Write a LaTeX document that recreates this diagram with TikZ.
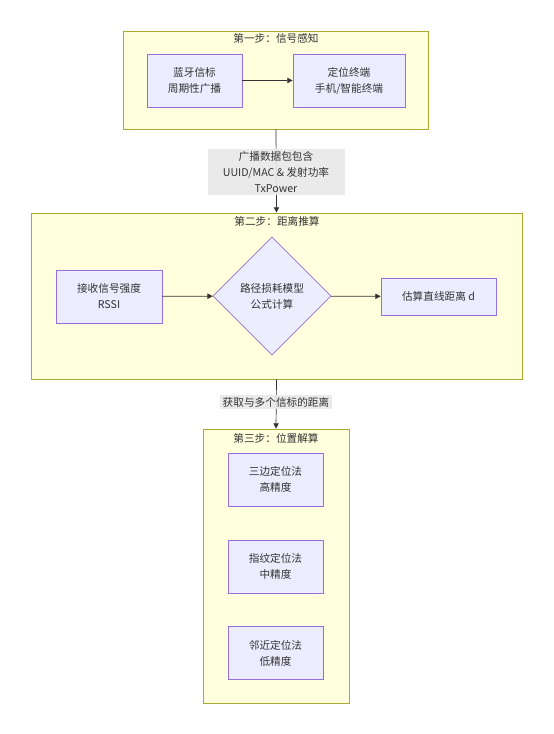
\documentclass[tikz,border=0pt]{standalone}
\usepackage{fontspec}
\setmainfont{Noto Sans CJK SC}
\usetikzlibrary{arrows.meta,positioning,shapes.geometric}
\definecolor{stepfill}{HTML}{FFFFDE}
\definecolor{stepline}{HTML}{AAAA33}
\definecolor{boxfill}{HTML}{ECECFF}
\definecolor{boxline}{HTML}{9370DB}
\definecolor{edgelab}{HTML}{E8E8E8}
\definecolor{ink}{HTML}{333333}

\begin{document}
\begin{tikzpicture}[
  x=0.03cm, y=-0.03cm,
  font=\fontsize{9.1}{13.6}\selectfont, text=ink,
  stage/.style={draw=stepline, fill=stepfill, line width=0.6pt, inner sep=0pt},
  box/.style={draw=boxline, fill=boxfill, line width=0.6pt, align=center, inner sep=0pt, minimum width=2.85cm, minimum height=1.59cm},
  decide/.style={diamond, draw=boxline, fill=boxfill, line width=0.6pt, align=center, inner sep=0pt, minimum width=3.54cm, minimum height=3.54cm},
  edgetext/.style={fill=edgelab, fill opacity=0.9, text opacity=1, align=center, inner sep=2pt},
  arrow/.style={-{Triangle[length=1.6mm,width=1.6mm]}, draw=ink, line width=0.6pt}
]
\useasboundingbox (0,0) rectangle (553,734);

% stage frames
\node[stage, minimum width=9.15cm, minimum height=2.94cm] (s1) at (276,80) {};
\node[stage, minimum width=14.73cm, minimum height=4.98cm] (s2) at (276.5,296) {};
\node[stage, minimum width=4.38cm, minimum height=8.22cm] (s3) at (276,566) {};

\node (t1) at (276,38) {第一步：信号感知};
\node (t2) at (277,221) {第二步：距离推算};
\node (t3) at (276,438) {第三步：位置解算};

% step one
\node[box] (beacon) at (194.5,80.5) {蓝牙信标\\周期性广播};
\node[box, minimum width=3.36cm] (phone) at (349,80.5) {定位终端\\手机/智能终端};
\draw[arrow] (beacon) -- (phone);

% step two
\node[box, minimum width=3.18cm] (rssi) at (109,296.5) {接收信号强度\\RSSI};
\node[decide] (model) at (272,296) {路径损耗模型\\公式计算};
\node[box, minimum width=3.45cm, minimum height=1.11cm] (dist) at (438.5,296.5) {估算直线距离 d};
\draw[arrow] (rssi) -- (model);
\draw[arrow] (model) -- (dist);

% step three
\node[box] (tri) at (275.5,479.5) {三边定位法\\高精度};
\node[box] (finger) at (275.5,566.5) {指纹定位法\\中精度};
\node[box] (near) at (275.5,653) {邻近定位法\\低精度};

% between stages
\draw[arrow] (s1.south) -- (s2.north);
\draw[arrow] (s2.south) -- (s3.north);
\node[edgetext, minimum width=4.11cm] (pkt) at (276,172) {广播数据包包含\\UUID/MAC \& 发射功率\\TxPower};
\node[edgetext] (many) at (276,402) {获取与多个信标的距离};

\end{tikzpicture}
\end{document}
